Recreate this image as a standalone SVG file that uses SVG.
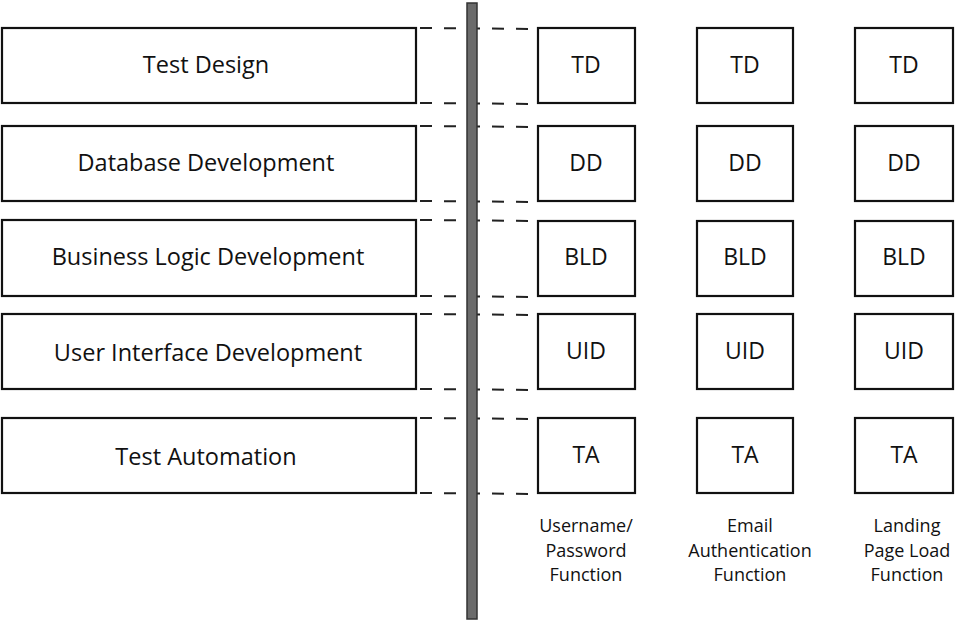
<svg xmlns="http://www.w3.org/2000/svg" width="955" height="621" viewBox="0 0 955 621">
<style>
.box{fill:#fff;stroke:#111;stroke-width:2.2}
.lbl{font-family:"Open Sans","Liberation Sans",sans-serif;font-size:23.5px;fill:#111;text-anchor:middle}
.abbr{font-family:"Open Sans","Liberation Sans",sans-serif;font-size:23px;fill:#111;text-anchor:middle}
.cap{font-family:"Open Sans","Liberation Sans",sans-serif;font-size:18px;fill:#111;text-anchor:middle}
.dash{stroke:#222;stroke-width:2;stroke-dasharray:12 12;fill:none}
</style>
<rect width="955" height="621" fill="#fff"/>
<g id="connectors">
<path class="dash" d="M420 28 L536 29 M420 103 L536 104"/>
<path class="dash" d="M420 126 L536 127 M420 201 L536 202"/>
<path class="dash" d="M420 220 L536 221 M420 296 L536 297"/>
<path class="dash" d="M420 314 L536 315 M420 389 L536 390"/>
<path class="dash" d="M420 418 L536 419 M420 493 L536 494"/>
</g>
<g id="divider"><rect x="467" y="3" width="10" height="616" fill="#6b6b6b" stroke="#333" stroke-width="1.5"/></g>
<g id="test-design"><rect class="box" x="2" y="28" width="414" height="75"/><text class="lbl" x="206" y="73">Test Design</text></g>
<g id="database-development"><rect class="box" x="2" y="126" width="414" height="75"/><text class="lbl" x="206" y="171">Database Development</text></g>
<g id="business-logic-development"><rect class="box" x="2" y="220" width="414" height="76"/><text class="lbl" x="208" y="265">Business Logic Development</text></g>
<g id="user-interface-development"><rect class="box" x="2" y="314" width="414" height="75"/><text class="lbl" x="208" y="361">User Interface Development</text></g>
<g id="test-automation"><rect class="box" x="2" y="418" width="414" height="75"/><text class="lbl" x="206" y="465">Test Automation</text></g>

<g id="c1-td"><rect class="box" x="538" y="28" width="97" height="75"/><text class="abbr" x="586" y="73">TD</text></g>
<g id="c1-dd"><rect class="box" x="538" y="126" width="97" height="75"/><text class="abbr" x="586" y="171">DD</text></g>
<g id="c1-bld"><rect class="box" x="538" y="221" width="97" height="75"/><text class="abbr" x="586" y="265">BLD</text></g>
<g id="c1-uid"><rect class="box" x="538" y="314" width="97" height="75"/><text class="abbr" x="586" y="359">UID</text></g>
<g id="c1-ta"><rect class="box" x="538" y="418" width="97" height="75"/><text class="abbr" x="586" y="463">TA</text></g>

<g id="c2-td"><rect class="box" x="697" y="28" width="96" height="75"/><text class="abbr" x="745" y="73">TD</text></g>
<g id="c2-dd"><rect class="box" x="697" y="126" width="96" height="75"/><text class="abbr" x="745" y="171">DD</text></g>
<g id="c2-bld"><rect class="box" x="697" y="221" width="96" height="75"/><text class="abbr" x="745" y="265">BLD</text></g>
<g id="c2-uid"><rect class="box" x="697" y="314" width="96" height="75"/><text class="abbr" x="745" y="359">UID</text></g>
<g id="c2-ta"><rect class="box" x="697" y="418" width="96" height="75"/><text class="abbr" x="745" y="463">TA</text></g>

<g id="c3-td"><rect class="box" x="855" y="28" width="98" height="75"/><text class="abbr" x="904" y="73">TD</text></g>
<g id="c3-dd"><rect class="box" x="855" y="126" width="98" height="75"/><text class="abbr" x="904" y="171">DD</text></g>
<g id="c3-bld"><rect class="box" x="855" y="221" width="98" height="75"/><text class="abbr" x="904" y="265">BLD</text></g>
<g id="c3-uid"><rect class="box" x="855" y="314" width="98" height="75"/><text class="abbr" x="904" y="359">UID</text></g>
<g id="c3-ta"><rect class="box" x="855" y="418" width="98" height="75"/><text class="abbr" x="904" y="463">TA</text></g>

<g id="cap1"><text class="cap" x="586" y="532">Username/</text><text class="cap" x="586" y="557">Password</text><text class="cap" x="586" y="581">Function</text></g>
<g id="cap2"><text class="cap" x="750" y="532">Email</text><text class="cap" x="750" y="557">Authentication</text><text class="cap" x="750" y="581">Function</text></g>
<g id="cap3"><text class="cap" x="907" y="532">Landing</text><text class="cap" x="907" y="557">Page Load</text><text class="cap" x="907" y="581">Function</text></g>
</svg>
